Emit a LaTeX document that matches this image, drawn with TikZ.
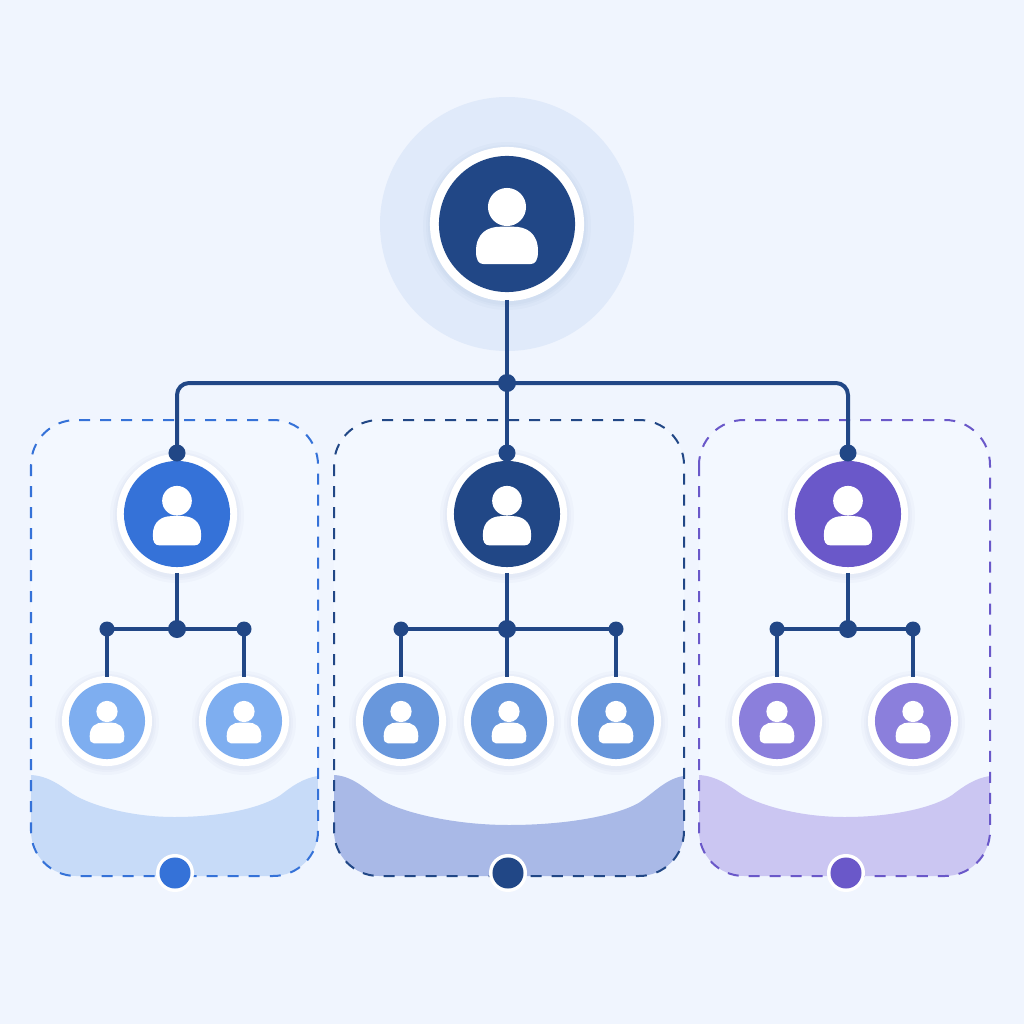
\documentclass[tikz,border=0pt]{standalone}
\usetikzlibrary{positioning}

\definecolor{pageBg}{HTML}{F0F5FE}
\definecolor{panelBg}{HTML}{F3F8FF}
\definecolor{haloBlue}{HTML}{E0EAFA}
\definecolor{navy}{HTML}{214786}
\definecolor{royal}{HTML}{3572D8}
\definecolor{violet}{HTML}{6A58C9}
\definecolor{leafSky}{HTML}{7EAEF0}
\definecolor{leafSteel}{HTML}{6897DC}
\definecolor{leafLilac}{HTML}{8B7FDC}
\definecolor{waveSky}{HTML}{C7DBF8}
\definecolor{waveNavy}{HTML}{A9B9E7}
\definecolor{waveLilac}{HTML}{CBC6F2}

\tikzset{
    link/.style={navy, line width=0.04cm, shorten <=-0.02cm, shorten >=-0.02cm},
    joint/.style={circle, fill=navy, inner sep=0pt, minimum size=#1*0.02cm},
    ring/.style={circle, fill=white, inner sep=0pt, minimum size=#1*0.02cm},
    disc/.style={circle, inner sep=0pt, minimum size=#1*0.02cm},
    person/.pic={
        \fill[white] (0,-0.25) circle (0.28);
        \fill[white] (-0.456,0.4) .. controls (-0.456,0.13) and (-0.28,0.04) .. (-0.1,0.04)
            -- (0.1,0.04) .. controls (0.28,0.04) and (0.456,0.13) .. (0.456,0.4)
            .. controls (0.456,0.53) and (0.42,0.59) .. (0.34,0.59)
            -- (-0.34,0.59) .. controls (-0.42,0.59) and (-0.456,0.53) .. (-0.456,0.4) -- cycle;
    }
}

% name, x, y, ring radius, disc radius, colour
\newcommand{\member}[6]{
    \foreach \grow in {2,4,7}
        \fill[navy, opacity=0.025] (#2,#3+2) circle (#4+\grow);
    \node[ring=#4] (#1) at (#2,#3) {};
    \node[disc=#5, fill=#6] at (#2,#3) {};
    \pic[scale=#5] at (#2,#3) {person};
}

\begin{document}
\begin{tikzpicture}[x=0.01cm, y=-0.01cm]
    \useasboundingbox (0,0) rectangle (1024,1024);
    \fill[pageBg] (0,0) rectangle (1024,1024);

    % --- Panels with wave at the bottom ---
    \foreach \xa/\xb/\yw/\col/\wav in {31/318/817/royal/waveSky, 334/684/825/navy/waveNavy, 699/990/817/violet/waveLilac} {
        \pgfmathsetmacro\w{\xb-\xa}
        \fill[panelBg, rounded corners=0.45cm] (\xa,420) rectangle (\xb,876);
        \begin{scope}
            \clip[rounded corners=0.45cm] (\xa,420) rectangle (\xb,876);
            \fill[\wav] (\xa,775) .. controls ({\xa+0.06*\w},776) and ({\xa+0.10*\w},{\yw-32}) .. ({\xa+0.14*\w},{\yw-24})
                .. controls ({\xa+0.19*\w},{\yw-14}) and ({\xa+0.33*\w},\yw) .. ({\xa+0.5*\w},\yw)
                .. controls ({\xa+0.67*\w},\yw) and ({\xa+0.81*\w},{\yw-10}) .. ({\xa+0.87*\w},{\yw-22})
                .. controls ({\xa+0.91*\w},{\yw-31}) and ({\xa+0.95*\w},778) .. (\xb,776)
                -- (\xb,876) -- (\xa,876) -- cycle;
        \end{scope}
        \draw[\col, line width=0.02cm, dash pattern=on 0.11cm off 0.10cm, rounded corners=0.45cm] (\xa,420) rectangle (\xb,876);
    }

    % --- Root ---
    \fill[haloBlue] (507,224) circle (127);
    \member{root}{507}{224}{77}{68}{navy}
    \node[joint=9] (hubRoot) at (507,383) {};

    % --- Second level ---
    \member{midA}{177}{514}{60}{53}{royal}
    \member{midB}{507}{514}{60}{53}{navy}
    \member{midC}{848}{514}{60}{53}{violet}
    \node[joint=8.5] (dropA) at (177,453) {};
    \node[joint=8.5] (dropB) at (507,453) {};
    \node[joint=8.5] (dropC) at (848,453) {};
    \node[joint=9] (hubA) at (177,629) {};
    \node[joint=9] (hubB) at (507,629) {};
    \node[joint=9] (hubC) at (848,629) {};

    % --- Leaves ---
    \foreach \name/\x/\col in {A1/107/leafSky, A2/244/leafSky, B1/401/leafSteel, B2/509/leafSteel, B3/616/leafSteel, C1/777/leafLilac, C2/913/leafLilac} {
        \member{leaf\name}{\x}{721}{45}{38}{\col}
    }
    \node[joint=7.5] (tapA1) at (107,629) {};
    \node[joint=7.5] (tapA2) at (244,629) {};
    \node[joint=7.5] (tapB1) at (401,629) {};
    \node[joint=7.5] (tapB3) at (616,629) {};
    \node[joint=7.5] (tapC1) at (777,629) {};
    \node[joint=7.5] (tapC2) at (913,629) {};

    % --- Connectors ---
    \draw[link] (root) -- (hubRoot);
    \draw[link, rounded corners=0.12cm] (hubRoot) -| (dropA);
    \draw[link, rounded corners=0.12cm] (hubRoot) -| (dropC);
    \draw[link] (hubRoot) -- (dropB);
    \foreach \n in {A,B,C}
        \draw[link] (mid\n) -- (hub\n);
    \foreach \n/\hub in {A1/hubA, A2/hubA, B1/hubB, B3/hubB, C1/hubC, C2/hubC} {
        \draw[link] (\hub) -- (tap\n);
        \draw[link] (tap\n) -- (leaf\n);
    }
    \draw[link] (hubB) -- (hubB |- leafB2.north);

    % --- Bottom markers ---
    \node[ring=19] (markA) at (175,873) {};
    \node[disc=15.5, fill=royal] at (markA) {};
    \node[ring=19] (markB) at (508,873) {};
    \node[disc=15.5, fill=navy] at (markB) {};
    \node[ring=19] (markC) at (846,873) {};
    \node[disc=15.5, fill=violet] at (markC) {};
\end{tikzpicture}
\end{document}
